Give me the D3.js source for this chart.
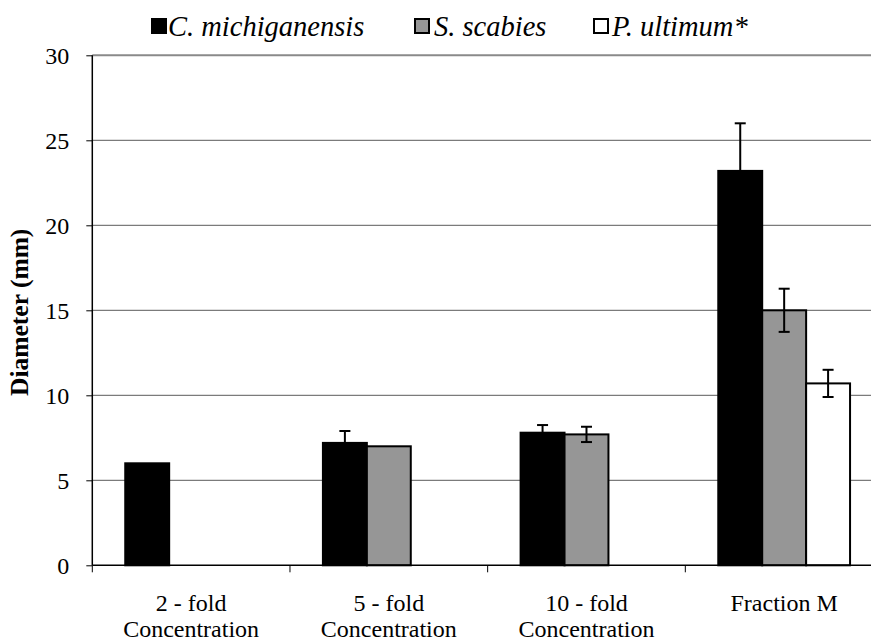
<!DOCTYPE html>
<html>
<head>
<meta charset="utf-8">
<script src="https://cdn.jsdelivr.net/npm/d3@7/dist/d3.min.js"></script>
<style>
  html, body { margin: 0; padding: 0; background: #fff; }
  svg { display: block; }
  text { font-family: "Liberation Serif", "Times New Roman", serif; fill: #000; }
</style>
</head>
<body>
<svg id="chart" width="871" height="641"></svg>
<script>
// Inhibition zone diameters (mm), mean and error per pathogen
const categories = [["2 - fold", "Concentration"], ["5 - fold", "Concentration"], ["10 - fold", "Concentration"], ["Fraction M"]];
const seriesNames = ["C. michiganensis", "S. scabies", "P. ultimum*"];
const cMichiganensis = [6.0, 7.2, 7.8, 23.2];
const cMichiganensisErr = [0, 0.7, 0.45, 2.8];
const sScabies = [null, 7.0, 7.7, 15.0];
const sScabiesErr = [0, 0, 0.45, 1.27];
const pUltimum = [null, null, null, 10.7];
const pUltimumErr = [0, 0, 0, 0.8];
const yTicks = [0, 5, 10, 15, 20, 25, 30];
const fills = ["#000000", "#969696", "#ffffff"];

const values = [cMichiganensis, sScabies, pUltimum];
const errors = [cMichiganensisErr, sScabiesErr, pUltimumErr];

const svg = d3.select("#chart");
const plotLeft = 92.3, plotRight = 883, plotTop = 55.3, plotBottom = 565.3;

const catKeys = categories.map(c => c.join(" "));
const x0 = d3.scaleBand().domain(catKeys).range([plotLeft, plotRight]).paddingInner(0).paddingOuter(0);
const x1 = d3.scaleBand().domain(seriesNames).range([0, x0.bandwidth()]).paddingInner(0).paddingOuter(0.75);
const y = d3.scaleLinear().domain([0, 30]).range([plotBottom, plotTop]);

// gridlines
svg.append("g").selectAll("line").data(yTicks.filter(t => t > 0)).join("line")
  .attr("x1", plotLeft).attr("x2", plotRight)
  .attr("y1", d => y(d)).attr("y2", d => y(d))
  .attr("stroke", d => d === 30 ? "#8a8a8a" : "#5a5a5a")
  .attr("stroke-width", d => d === 30 ? 2 : 1);

// bars
const rows = [];
catKeys.forEach((c, i) => seriesNames.forEach((s, j) => {
  if (values[j][i] != null) rows.push({ c, s, j, v: values[j][i], e: errors[j][i] });
}));

const g = svg.append("g");
g.selectAll("rect").data(rows).join("rect")
  .attr("x", d => x0(d.c) + x1(d.s))
  .attr("y", d => y(d.v))
  .attr("width", x1.bandwidth())
  .attr("height", d => y(0) - y(d.v))
  .attr("fill", d => fills[d.j])
  .attr("stroke", "#000")
  .attr("stroke-width", 2);

// error bars
const eb = svg.append("g").attr("stroke", "#000").attr("stroke-width", 2);
rows.filter(d => d.e > 0).forEach(d => {
  const cx = x0(d.c) + x1(d.s) + x1.bandwidth() / 2;
  eb.append("line").attr("x1", cx).attr("x2", cx).attr("y1", y(d.v - d.e)).attr("y2", y(d.v + d.e));
  [d.v - d.e, d.v + d.e].forEach(v => {
    eb.append("line").attr("x1", cx - 5.5).attr("x2", cx + 5.5).attr("y1", y(v)).attr("y2", y(v));
  });
});

// y axis
const yAxis = svg.append("g").attr("transform", `translate(${plotLeft},0)`)
  .call(d3.axisLeft(y).tickValues(yTicks).tickSize(6).tickPadding(17));
yAxis.attr("font-family", null);
yAxis.select(".domain").attr("stroke", "#000").attr("stroke-width", 1.5).attr("d", `M0,${plotTop}V${plotBottom}`);
yAxis.selectAll(".tick line").attr("stroke", "#000");
yAxis.selectAll(".tick text").attr("font-size", 24).attr("dy", "0.33em");

// x axis with ticks at category boundaries
const xAxis = svg.append("g");
xAxis.append("line").attr("x1", plotLeft).attr("x2", plotRight).attr("y1", plotBottom).attr("y2", plotBottom)
  .attr("stroke", "#000").attr("stroke-width", 1.5);
xAxis.selectAll(".bt").data(catKeys).join("line").attr("class", "bt")
  .attr("x1", d => x0(d)).attr("x2", d => x0(d))
  .attr("y1", plotBottom).attr("y2", plotBottom + 7)
  .attr("stroke", "#000").attr("stroke-width", 1);

categories.forEach((c, i) => {
  const cx = x0(catKeys[i]) + x0.bandwidth() / 2;
  const t = xAxis.append("text")
    .attr("x", cx)
    .attr("y", 611)
    .attr("text-anchor", "middle")
    .attr("font-size", 24);
  c.forEach((line, k) => {
    t.append("tspan").attr("x", cx).attr("dy", k === 0 ? 0 : 26).text(line);
  });
});

// y axis title
svg.append("text")
  .attr("transform", `translate(28,${(plotTop + plotBottom) / 2 + 2}) rotate(-90)`)
  .attr("text-anchor", "middle")
  .attr("font-size", 25.5)
  .attr("font-weight", "bold")
  .text("Diameter (mm)");

// legend
const legendItems = [
  { name: seriesNames[0], sx: 152, tx: 168 },
  { name: seriesNames[1], sx: 415, tx: 434 },
  { name: seriesNames[2], sx: 594, tx: 612 }
];
const lg = svg.append("g");
legendItems.forEach((it, j) => {
  lg.append("rect").attr("x", it.sx).attr("y", 19).attr("width", 14).attr("height", 14)
    .attr("fill", fills[j]).attr("stroke", "#000").attr("stroke-width", 2);
  lg.append("text").attr("x", it.tx).attr("y", 35.5)
    .attr("font-size", 28.5).attr("font-style", "italic").text(it.name);
});
</script>
</body>
</html>
